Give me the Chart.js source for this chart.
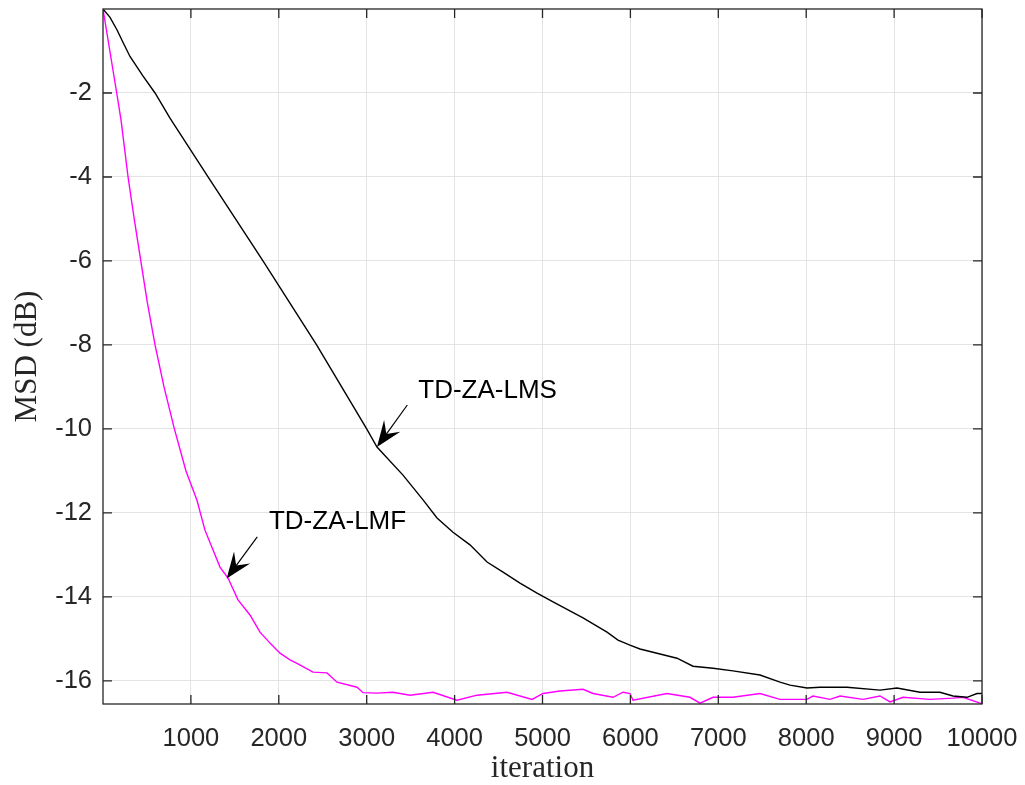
<!DOCTYPE html>
<html>
<head>
<meta charset="utf-8">
<script src="https://cdn.jsdelivr.net/npm/chart.js@4/dist/chart.umd.min.js"></script>
<style>
  body { margin: 0; background: #fff; }
  #wrap { width: 1025px; height: 785px; }
</style>
</head>
<body>
<div id="wrap"><canvas id="msd" width="1025" height="785"></canvas></div>
<script>
// TD-ZA-LMS curve (black)
const lmsIter = [0, 80, 160, 231, 307, 450, 592, 762, 1195, 1820, 2430, 3000, 3117, 3413, 3641, 3800, 3982,
  4175, 4369, 4551, 4744, 4938, 5120, 5461, 5734, 5859, 5995, 6109, 6337, 6530, 6712, 6940,
  7167, 7474, 7702, 7816, 8009, 8157, 8464, 8840, 9033, 9295, 9522, 9670, 9829, 9943, 10000];
const lmsMsd = [0, -0.2, -0.5, -0.81, -1.13, -1.58, -2, -2.6, -4, -6, -8, -10, -10.43, -11.1, -11.69, -12.12, -12.46,
  -12.76, -13.17, -13.41, -13.67, -13.91, -14.12, -14.5, -14.84, -15.03, -15.15, -15.24, -15.36, -15.46, -15.65, -15.7,
  -15.76, -15.86, -16.03, -16.1, -16.17, -16.15, -16.15, -16.22, -16.17, -16.27, -16.27, -16.36, -16.39, -16.3, -16.3];

// TD-ZA-LMF curve (magenta)
const lmfIter = [0, 156, 205, 285, 355, 430, 505, 592, 694, 812, 944, 1069, 1160, 1331, 1422, 1536, 1672, 1786, 1900, 2014,
  2127, 2207, 2389, 2548, 2662, 2890, 2958, 3117, 3299, 3493, 3754, 4027, 4255, 4596, 4881,
  5006, 5199, 5461, 5575, 5802, 5916, 5995, 6030, 6416, 6678, 6792, 6940, 7167, 7474, 7702,
  8009, 8077, 8271, 8385, 8646, 8840, 8954, 9101, 9408, 9670, 9784, 9977, 10000];
const lmfMsd = [0, -2, -2.64, -4, -5, -6, -7, -8, -9, -10, -11, -11.7, -12.41, -13.29, -13.55, -14.07, -14.43, -14.84, -15.1, -15.34,
  -15.5, -15.58, -15.79, -15.81, -16.03, -16.15, -16.28, -16.29, -16.27, -16.34, -16.27, -16.46, -16.34, -16.27, -16.44,
  -16.3, -16.24, -16.2, -16.3, -16.39, -16.27, -16.3, -16.46, -16.3, -16.39, -16.53, -16.39, -16.39, -16.3, -16.44,
  -16.44, -16.36, -16.44, -16.36, -16.44, -16.36, -16.5, -16.39, -16.44, -16.41, -16.39, -16.53, -16.53];

const xTicks = [1000, 2000, 3000, 4000, 5000, 6000, 7000, 8000, 9000, 10000];
const yTicks = [-16, -14, -12, -10, -8, -6, -4, -2];

// annotation arrows: [label, text x, text y, tail x, tail y, tip x, tip y] in data units
const notes = [
  ["TD-ZA-LMS", 3587, -9.26, 3462, -9.43, 3117, -10.43],
  ["TD-ZA-LMF", 1888, -12.39, 1755, -12.57, 1407, -13.56],
];

const axisColor = "#262626";

const frameAndNotes = {
  id: "frameAndNotes",
  afterDraw(chart) {
    const ctx = chart.ctx;
    const a = chart.chartArea;
    const xs = chart.scales.x, ys = chart.scales.y;
    ctx.save();
    ctx.strokeStyle = axisColor;
    ctx.lineWidth = 1.3;
    ctx.beginPath();
    // inward ticks on all four sides
    xTicks.forEach((v) => {
      const px = xs.getPixelForValue(v);
      ctx.moveTo(px, a.bottom); ctx.lineTo(px, a.bottom - 9);
      ctx.moveTo(px, a.top); ctx.lineTo(px, a.top + 9);
    });
    yTicks.forEach((v) => {
      const py = ys.getPixelForValue(v);
      ctx.moveTo(a.left, py); ctx.lineTo(a.left + 9, py);
      ctx.moveTo(a.right, py); ctx.lineTo(a.right - 9, py);
    });
    ctx.stroke();
    ctx.strokeRect(a.left, a.top, a.right - a.left, a.bottom - a.top);

    // arrows + labels
    ctx.strokeStyle = "#000";
    ctx.fillStyle = "#000";
    ctx.lineWidth = 1.2;
    ctx.font = "26px 'Liberation Sans', Arial, sans-serif";
    ctx.textBaseline = "alphabetic";
    ctx.textAlign = "left";
    notes.forEach(([label, tx, ty, x0, y0, x1, y1]) => {
      const sx = xs.getPixelForValue(x0), sy = ys.getPixelForValue(y0);
      const ex = xs.getPixelForValue(x1), ey = ys.getPixelForValue(y1);
      const len = Math.hypot(ex - sx, ey - sy);
      const ux = (ex - sx) / len, uy = (ey - sy) / len;
      const nx = -uy, ny = ux;
      const L = 26, W = 10, N = 16;
      ctx.beginPath();
      ctx.moveTo(sx, sy);
      ctx.lineTo(ex - ux * N, ey - uy * N);
      ctx.stroke();
      ctx.beginPath();
      ctx.moveTo(ex, ey);
      ctx.lineTo(ex - ux * L + nx * W, ey - uy * L + ny * W);
      ctx.lineTo(ex - ux * N, ey - uy * N);
      ctx.lineTo(ex - ux * L - nx * W, ey - uy * L - ny * W);
      ctx.closePath();
      ctx.fill();
      ctx.fillText(label, xs.getPixelForValue(tx), ys.getPixelForValue(ty));
    });
    ctx.restore();
  },
};

const tickFont = { family: "'Liberation Sans', Arial, sans-serif", size: 25.5 };
const titleFont = { family: "'Liberation Serif', 'Times New Roman', serif", size: 31, lineHeight: 1 };

new Chart(document.getElementById("msd").getContext("2d"), {
  type: "line",
  data: {
    datasets: [
      {
        label: "TD-ZA-LMS",
        data: lmsIter.map((x, i) => ({ x: x, y: lmsMsd[i] })),
        borderColor: "#000000",
        borderWidth: 1.4,
        pointRadius: 0,
        tension: 0,
      },
      {
        label: "TD-ZA-LMF",
        data: lmfIter.map((x, i) => ({ x: x, y: lmfMsd[i] })),
        borderColor: "#ff00ff",
        borderWidth: 1.4,
        pointRadius: 0,
        tension: 0,
      },
    ],
  },
  options: {
    responsive: false,
    animation: false,
    layout: { padding: { top: 9, right: 43, left: 0, bottom: 0 } },
    plugins: { legend: { display: false }, tooltip: { enabled: false } },
    scales: {
      x: {
        type: "linear",
        min: 0,
        max: 10000,
        afterBuildTicks: (s) => { s.ticks = xTicks.map((v) => ({ value: v })); },
        afterFit: (s) => { s.height = 81; s.paddingLeft = 0; s.paddingRight = 0; },
        grid: { color: "#e3e3e3", lineWidth: 1, drawTicks: false },
        border: { display: false },
        ticks: { color: axisColor, font: tickFont, padding: 20, maxRotation: 0, autoSkip: false,
          callback: (v) => String(v) },
        title: { display: true, text: "iteration", color: axisColor, font: titleFont, padding: { top: 0, bottom: 1 } },
      },
      y: {
        min: -16.55,
        max: 0,
        afterBuildTicks: (s) => { s.ticks = yTicks.map((v) => ({ value: v })); },
        afterFit: (s) => { s.width = 103; s.paddingTop = 0; s.paddingBottom = 0; },
        grid: { color: "#e3e3e3", lineWidth: 1, drawTicks: false },
        border: { display: false },
        ticks: { color: axisColor, font: tickFont, padding: 11, autoSkip: false,
          callback: (v) => String(v) },
        title: { display: true, text: "MSD (dB)", color: axisColor, font: titleFont, padding: { top: 12, bottom: 0 } },
      },
    },
  },
  plugins: [frameAndNotes],
});
</script>
</body>
</html>
